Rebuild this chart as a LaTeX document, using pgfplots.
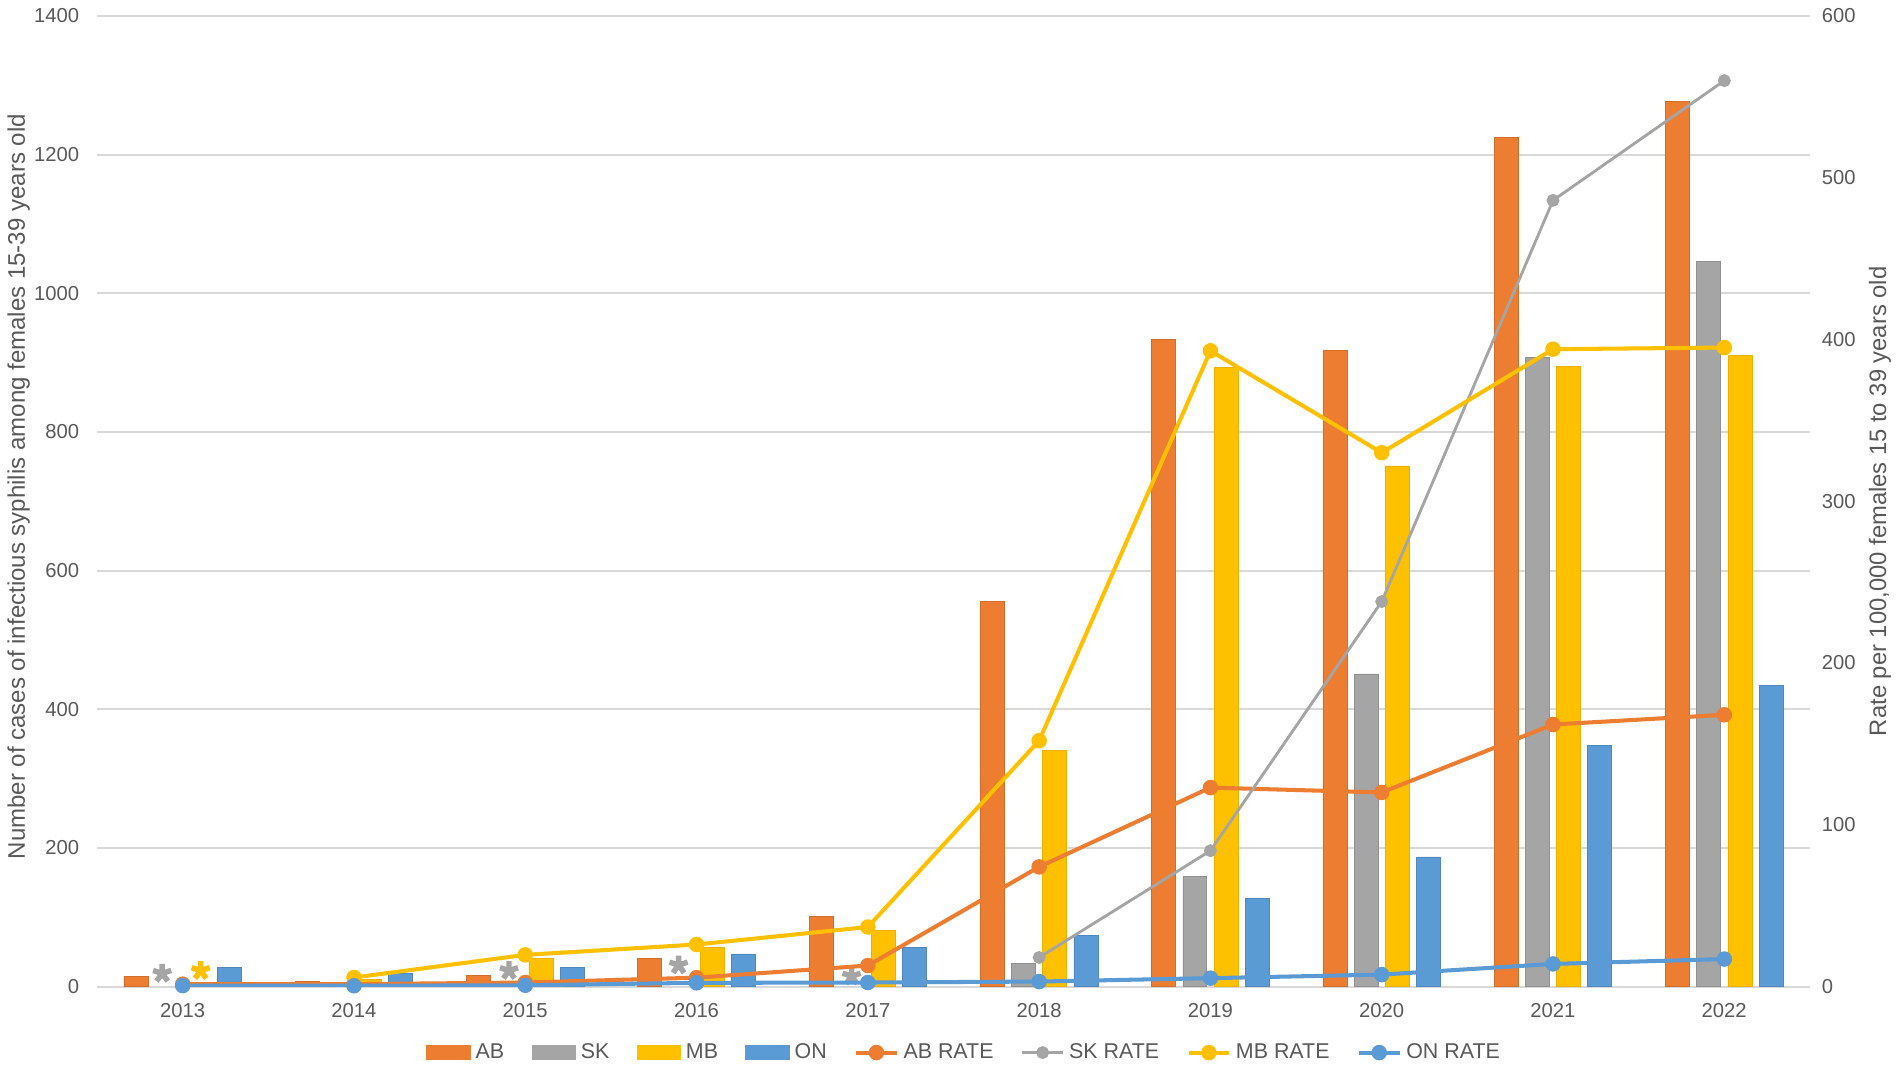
\documentclass[border=0pt]{standalone}
\usepackage{pgfplots}
\pgfplotsset{compat=1.18}
\usepackage{fontspec}
\setmainfont{Liberation Sans}
\definecolor{ABc}{HTML}{ED7D31}
\definecolor{SKc}{HTML}{A5A5A5}
\definecolor{MBc}{HTML}{FFC000}
\definecolor{ONc}{HTML}{5B9BD5}
\definecolor{txt}{HTML}{595959}
\definecolor{gridc}{HTML}{D9D9D9}
\begin{document}
\begin{tikzpicture}
\path[use as bounding box] (-40.8pt,-35.3pt) rectangle (758.7pt,414.7pt);
\begin{axis}[
  at={(0,0)}, anchor=south west,
  scale only axis, width=720pt, height=408pt,
  xmin=2012.5, xmax=2022.5, ymin=0, ymax=1400,
  xtick={2013,...,2022}, ytick={0,200,...,1400},
  ymajorgrids, grid style={draw=gridc, line width=0.8pt},
  axis line style={draw=none}, tick style={draw=none},
  /pgf/number format/1000 sep={},
  /pgf/number format/assume math mode=true,
  ticklabel style={font=\fontsize{8.5}{10}\selectfont, text=txt},
  xticklabel style={yshift=-3.5pt},
  yticklabel style={xshift=-4pt},
  ylabel={Number of cases of infectious syphilis among females 15-39 years old},
  ylabel style={at={([xshift=-33pt]axis description cs:0,0.515)}, anchor=center, font=\fontsize{10.1}{12}\selectfont, text=txt},
]
\addplot[ybar, bar width=0.14, bar shift=-0.273, fill=ABc, draw=ABc!88!black, line width=0.3pt] coordinates {
(2013,15) (2014,8) (2015,16) (2016,40) (2017,101) (2018,556) (2019,933) (2020,917) (2021,1225) (2022,1277)};
\addplot[ybar, bar width=0.14, bar shift=-0.091, fill=SKc, draw=SKc!88!black, line width=0.3pt] coordinates {
(2018,34) (2019,159) (2020,451) (2021,907) (2022,1046)};
\addplot[ybar, bar width=0.14, bar shift=0.091, fill=MBc, draw=MBc!92!black, line width=0.3pt] coordinates {
(2014,10) (2015,41) (2016,56) (2017,81) (2018,340) (2019,893) (2020,751) (2021,894) (2022,910)};
\addplot[ybar, bar width=0.14, bar shift=0.273, fill=ONc, draw=ONc!88!black, line width=0.3pt] coordinates {
(2013,27) (2014,19) (2015,27) (2016,47) (2017,56) (2018,74) (2019,127) (2020,187) (2021,348) (2022,434)};
% suppressed-value stars
\addplot[only marks, mark=star, mark size=4pt, line width=2.3pt, color=SKc] coordinates {
(2012.88,19) (2014.905,23) (2015.895,31) (2016.905,15)};
\addplot[only marks, mark=star, mark size=4pt, line width=2.3pt, color=MBc] coordinates {
(2013.105,23)};
\end{axis}
\begin{axis}[
  at={(0,0)}, anchor=south west,
  scale only axis, width=720pt, height=408pt,
  xmin=2012.5, xmax=2022.5, ymin=0, ymax=600,
  axis x line=none, axis y line*=right,
  xtick=\empty, ytick={0,100,...,600},
  axis line style={draw=none}, tick style={draw=none},
  /pgf/number format/1000 sep={},
  /pgf/number format/assume math mode=true,
  ticklabel style={font=\fontsize{8.5}{10}\selectfont, text=txt},
  yticklabel style={xshift=1.5pt},
  ylabel={Rate per 100,000 females 15 to 39 years old},
  ylabel style={at={([xshift=29.4pt]axis description cs:1,0.5)}, anchor=center, font=\fontsize{10}{12}\selectfont, text=txt},
  legend columns=8,
  legend style={draw=none, at={(0.507,-0.068)}, anchor=center, font=\fontsize{9}{10}\selectfont, text=txt,
    /tikz/every even column/.append style={column sep=9.5pt}},
  every axis plot/.append style={line width=1.7pt, mark=*, mark size=2.4pt},
]
\addlegendimage{legend image code/.code={\fill[ABc] (0pt,-2.4pt) rectangle (17pt,2.4pt);}}
\addlegendentry{AB}
\addlegendimage{legend image code/.code={\fill[SKc] (0pt,-2.4pt) rectangle (17pt,2.4pt);}}
\addlegendentry{SK}
\addlegendimage{legend image code/.code={\fill[MBc] (0pt,-2.4pt) rectangle (17pt,2.4pt);}}
\addlegendentry{MB}
\addlegendimage{legend image code/.code={\fill[ONc] (0pt,-2.4pt) rectangle (17pt,2.4pt);}}
\addlegendentry{ON}
\addplot[color=ABc] coordinates {
(2013,1.5) (2014,1.5) (2015,2.5) (2016,5.5) (2017,13) (2018,74) (2019,123) (2020,120) (2021,162) (2022,168)};
\addlegendentry{AB RATE}
\addplot[color=SKc, line width=1.2pt, mark size=2.1pt] coordinates {
(2018,18) (2019,84) (2020,238) (2021,486) (2022,560)};
\addlegendentry{SK RATE}
\addplot[color=MBc] coordinates {
(2014,5.6) (2015,19.6) (2016,26) (2017,36.8) (2018,152) (2019,393) (2020,330) (2021,394) (2022,395)};
\addlegendentry{MB RATE}
\addplot[color=ONc] coordinates {
(2013,0.6) (2014,0.5) (2015,0.8) (2016,2.3) (2017,2.5) (2018,3.1) (2019,5.2) (2020,7.4) (2021,14) (2022,17)};
\addlegendentry{ON RATE}
\end{axis}
\end{tikzpicture}
\end{document}
